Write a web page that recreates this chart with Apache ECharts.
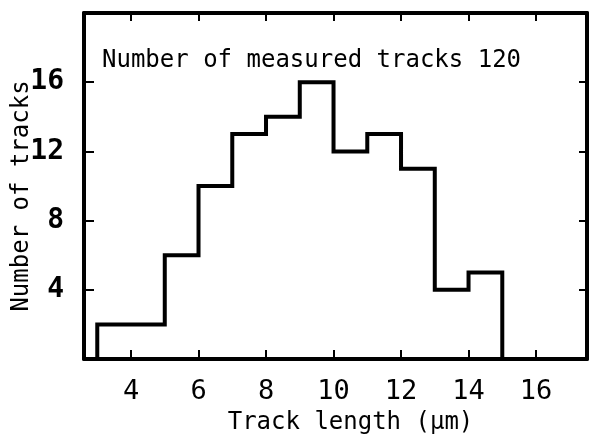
<!DOCTYPE html>
<html>
<head>
<meta charset="utf-8">
<script src="https://cdn.jsdelivr.net/npm/echarts@6/dist/echarts.min.js"></script>
<style>
  html, body { margin: 0; padding: 0; background: #fff; }
  #chart { width: 591px; height: 438px; }
</style>
</head>
<body>
<div id="chart"></div>
<script>
// histogram bins (track length, µm) and counts
const binEdges  = [3, 5, 6, 7, 8, 9, 10, 11, 12, 13, 14, 15];
const binCounts = [2, 6, 10, 13, 14, 16, 12, 13, 11, 4, 5];

const xTicks = [4, 6, 8, 10, 12, 14, 16];
const yTicks = [4, 8, 12, 16];

const titleText = 'Number of measured tracks 120';
const xName     = 'Track length (\u00b5m)';
const yName     = 'Number of tracks';

// outline of the histogram
const outline = [[binEdges[0], 0]];
for (let i = 0; i < binCounts.length; i++) {
  outline.push([binEdges[i], binCounts[i]]);
  outline.push([binEdges[i + 1], binCounts[i]]);
}
outline.push([binEdges[binEdges.length - 1], 0]);

const mono = '"DejaVu Sans Mono", monospace';
const ink  = '#000';

const chart = echarts.init(document.getElementById('chart'));

const frameLine = { show: true, onZero: false, lineStyle: { color: ink, width: 4 } };

chart.setOption({
  animation: false,
  backgroundColor: '#fff',
  title: {
    text: titleText,
    left: 97,
    top: 44,
    textStyle: { fontFamily: mono, fontSize: 24, fontWeight: 'normal', color: ink }
  },
  grid: { left: 84, right: 4, top: 13, bottom: 79, containLabel: false, outerBoundsMode: 'none' },
  xAxis: [
    {
      type: 'value',
      min: 2.607,
      max: 17.51,
      position: 'bottom',
      axisLine: frameLine,
      splitLine: { show: false },
      axisTick: { show: true, inside: true, length: 9, customValues: xTicks,
                  lineStyle: { color: ink, width: 2 } },
      axisLabel: { customValues: xTicks, margin: 19, color: ink,
                   fontFamily: mono, fontSize: 27 },
      name: xName,
      nameLocation: 'middle',
      nameMoveOverlap: false,
      nameGap: 52,
      nameTextStyle: { fontFamily: mono, fontSize: 24, color: ink, padding: [0, 0, 0, 30] }
    },
    {
      type: 'value',
      min: 2.607,
      max: 17.51,
      position: 'top',
      axisLine: frameLine,
      splitLine: { show: false },
      axisTick: { show: true, inside: true, length: 8, customValues: xTicks,
                  lineStyle: { color: ink, width: 2 } },
      axisLabel: { show: false }
    }
  ],
  yAxis: [
    {
      type: 'value',
      min: 0,
      max: 20,
      position: 'left',
      axisLine: frameLine,
      splitLine: { show: false },
      axisTick: { show: true, inside: true, length: 10, customValues: yTicks,
                  lineStyle: { color: ink, width: 2 } },
      axisLabel: { customValues: yTicks, margin: 20, color: ink,
                   fontFamily: mono, fontWeight: 'bold', fontSize: 28 },
      name: yName,
      nameLocation: 'middle',
      nameMoveOverlap: false,
      nameGap: 50,
      nameTextStyle: { fontFamily: mono, fontSize: 24, color: ink, padding: [0, 20, 0, 0] }
    },
    {
      type: 'value',
      min: 0,
      max: 20,
      position: 'right',
      axisLine: frameLine,
      splitLine: { show: false },
      axisTick: { show: true, inside: true, length: 8, customValues: yTicks,
                  lineStyle: { color: ink, width: 2 } },
      axisLabel: { show: false }
    }
  ],
  series: [
    {
      type: 'line',
      data: outline,
      symbol: 'none',
      lineStyle: { color: ink, width: 4, join: 'miter' },
      z: 3
    }
  ]
});
</script>
</body>
</html>
